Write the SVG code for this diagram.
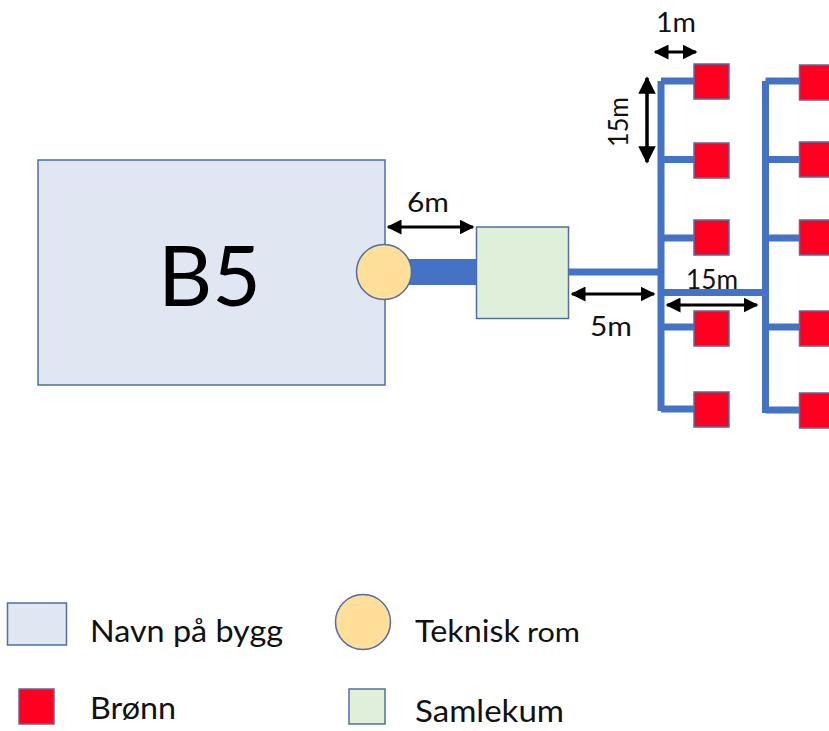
<svg xmlns="http://www.w3.org/2000/svg" width="829" height="731" viewBox="0 0 829 731">
<style>
.s{stroke:#4f6fa3;stroke-width:1.5}
.red{fill:#ff0020;stroke:#5a6aa0;stroke-width:1.5}
.pipe{stroke:#4472c4;stroke-width:7;fill:none}
.dim{stroke:#000;stroke-width:3;fill:none;marker-start:url(#a);marker-end:url(#a)}
text{font-family:Lato,"Liberation Sans",sans-serif;fill:#111}
.l{font-size:31px}
.d{font-size:27px}
</style>
<defs><marker id="a" viewBox="0 0 10 10" refX="9" refY="5" markerWidth="5" markerHeight="5" orient="auto-start-reverse"><path d="M0 0L10 5L0 10z" fill="#000"/></marker></defs>
<rect width="829" height="731" fill="#fff"/>
<g id="connectors">
<path class="pipe" style="stroke-width:26" d="M405 272H477"/>
<path class="pipe" d="M568 272H659"/>
<path class="pipe" d="M661 81V411M661 81H695M661 159.500H695M661 238H695M661 327H695M661 409H695"/>
<path class="pipe" d="M661 292.500H766"/>
<path class="pipe" d="M765.500 81V413M765.500 81H800M765.500 159.500H800M765.500 238H800M765.500 327H800M765.500 410H800"/>
</g>
<g id="dimensions">
<path class="dim" d="M388 227H473"/>
<path class="dim" d="M655 52H696"/>
<path class="dim" style="stroke-width:3.500" d="M647 78V162"/>
<path class="dim" d="M572 294H654"/>
<path class="dim" d="M667 305H757"/>
<text class="d" x="407" y="212" textLength="42" lengthAdjust="spacingAndGlyphs">6m</text>
<text class="d" x="656" y="32" textLength="40" lengthAdjust="spacingAndGlyphs">1m</text>
<text class="d" transform="translate(628 147) rotate(-90)" textLength="50" lengthAdjust="spacingAndGlyphs">15m</text>
<text class="d" x="590" y="336" textLength="42" lengthAdjust="spacingAndGlyphs">5m</text>
<text class="d" x="686" y="289" textLength="52" lengthAdjust="spacingAndGlyphs">15m</text>
</g>
<g id="b5"><rect x="38" y="160" width="347" height="225" fill="#e0e7f3" class="s"/><text x="158" y="306" font-size="84" textLength="103" lengthAdjust="spacingAndGlyphs" fill="#000" style="fill:#000">B5</text></g>
<g id="teknisk"><circle cx="384" cy="272" r="27.500" fill="#ffdf99" class="s"/></g>
<g id="samlekum"><rect x="476.500" y="227" width="92" height="91.500" fill="#e0efd9" class="s"/></g>
<g id="bronner">
<rect class="red" x="694" y="64" width="35" height="35"/>
<rect class="red" x="694" y="143" width="35" height="35"/>
<rect class="red" x="694" y="220" width="35" height="35"/>
<rect class="red" x="694" y="311" width="35" height="35"/>
<rect class="red" x="694" y="392" width="35" height="35"/>
<rect class="red" x="799.500" y="65" width="35" height="35"/>
<rect class="red" x="799.500" y="142" width="35" height="35"/>
<rect class="red" x="799.500" y="220" width="35" height="35"/>
<rect class="red" x="799.500" y="311" width="35" height="35"/>
<rect class="red" x="799.500" y="393" width="35" height="35"/>
</g>
<g id="legend-bygg"><rect x="7.500" y="603" width="59" height="42" fill="#e0e7f3" class="s"/><text class="l" x="90" y="642" textLength="193" lengthAdjust="spacingAndGlyphs">Navn på bygg</text></g>
<g id="legend-bronn"><rect class="red" x="19" y="689" width="35" height="35"/><text class="l" x="90" y="719" textLength="86" lengthAdjust="spacingAndGlyphs">Brønn</text></g>
<g id="legend-teknisk"><circle cx="363" cy="622" r="27.500" fill="#ffdf99" class="s"/><text class="l" x="415" y="642" textLength="105" lengthAdjust="spacingAndGlyphs">Teknisk</text><text x="527" y="642" font-size="27" textLength="53" lengthAdjust="spacingAndGlyphs">rom</text></g>
<g id="legend-samlekum"><rect x="349" y="689" width="36" height="35" fill="#e0efd9" class="s"/><text class="l" x="415" y="722" textLength="149" lengthAdjust="spacingAndGlyphs">Samlekum</text></g>
</svg>
